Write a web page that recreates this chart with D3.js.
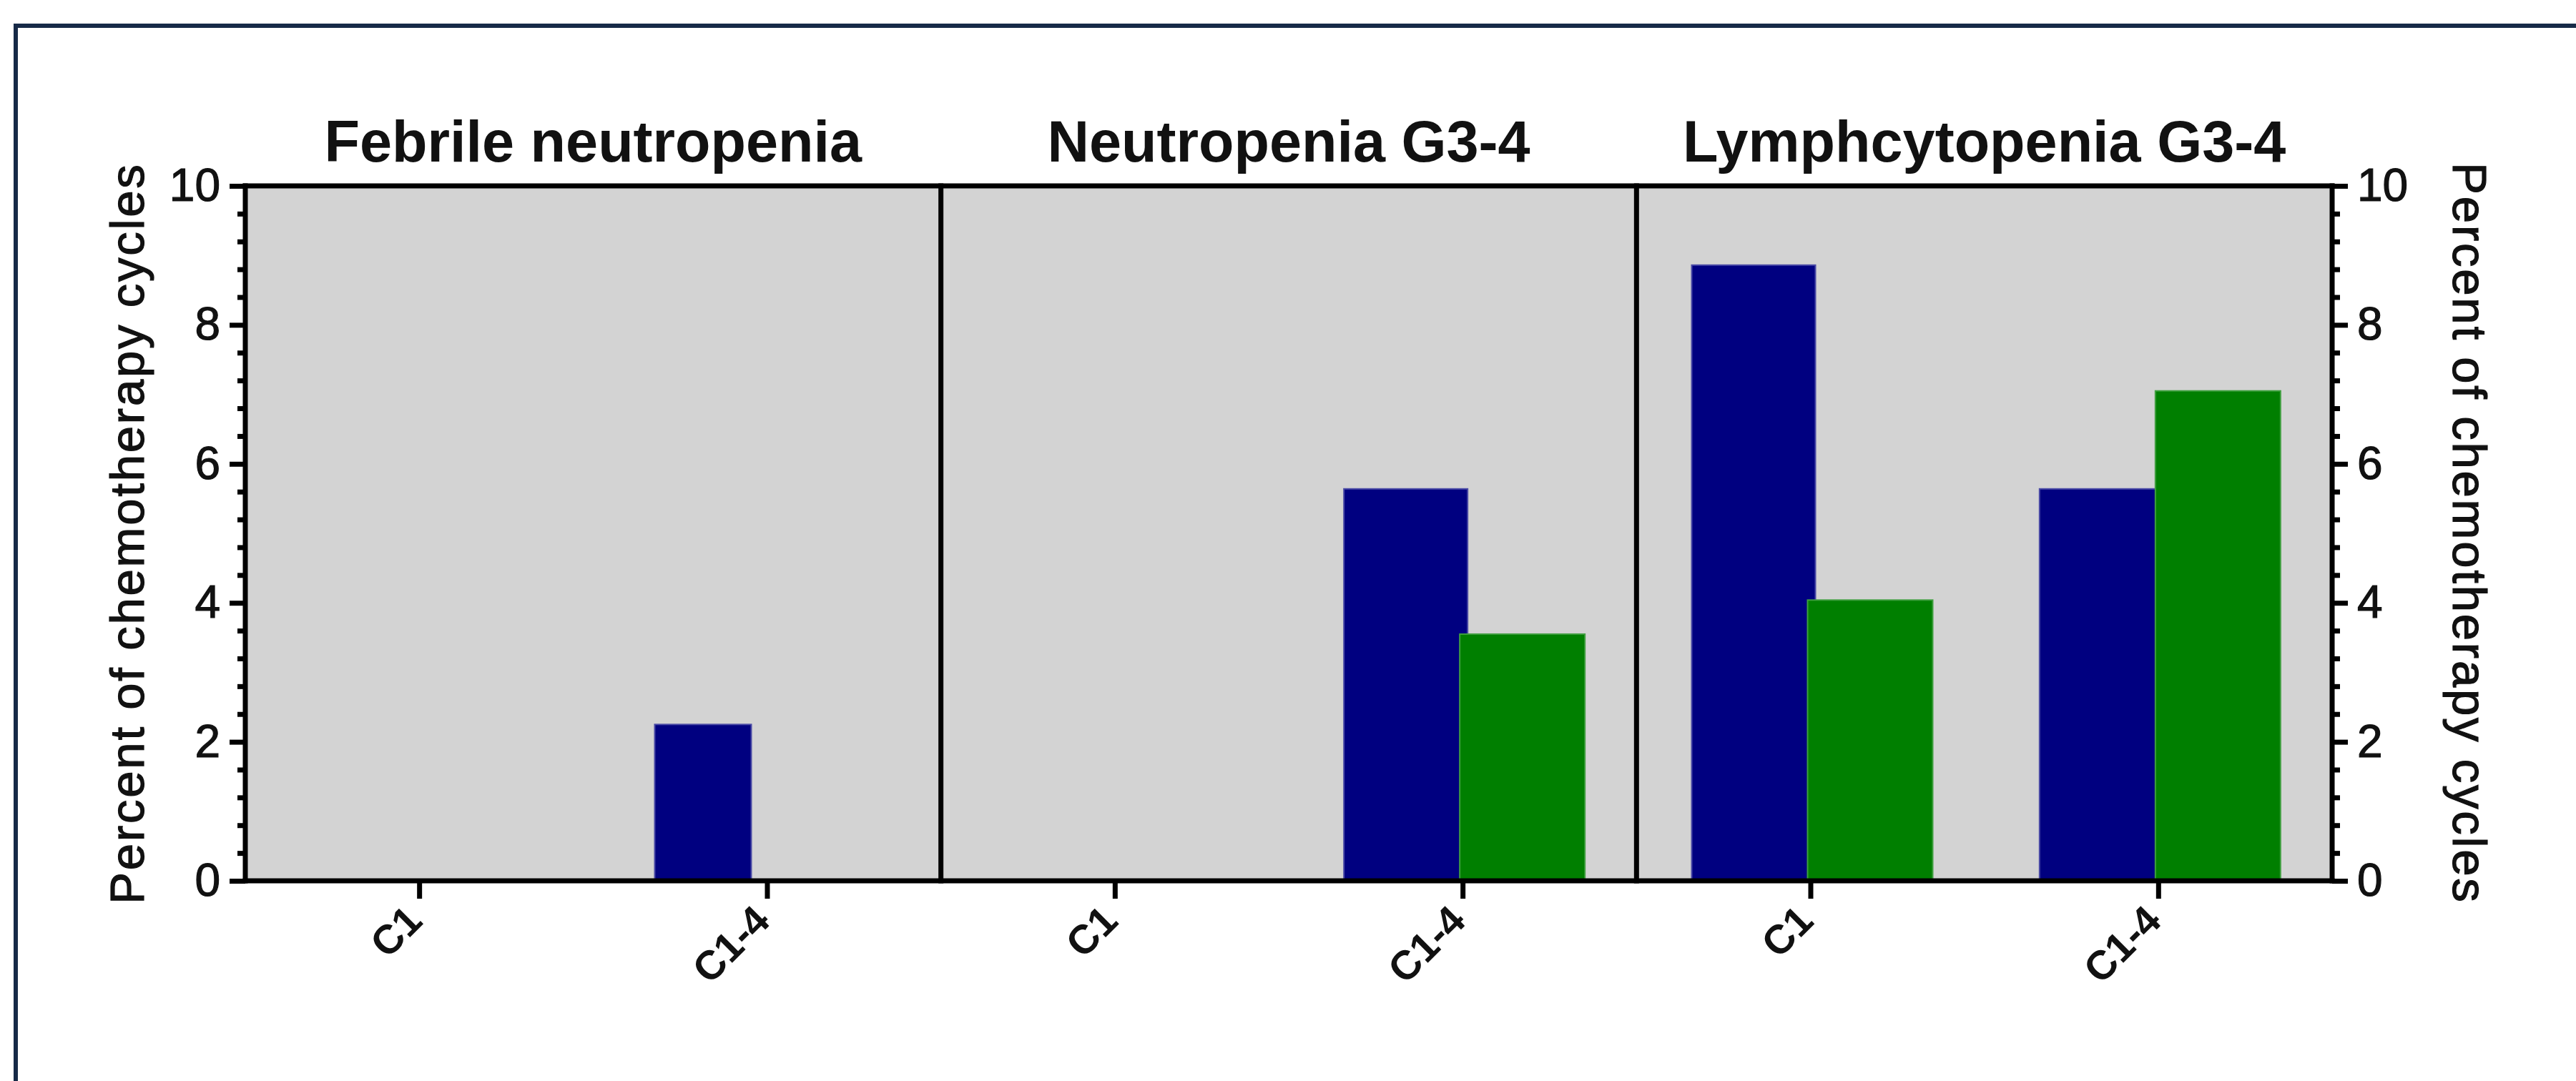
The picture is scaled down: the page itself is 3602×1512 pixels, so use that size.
<!DOCTYPE html>
<html>
<head>
<meta charset="utf-8">
<script src="https://cdnjs.cloudflare.com/ajax/libs/d3/7.8.5/d3.min.js"></script>
<style>
html, body { margin: 0; padding: 0; background: #fff; }
svg { display: block; }
text { font-family: "Liberation Sans", Arial, sans-serif; fill: #111; }
</style>
</head>
<body>
<svg id="chart" width="3602" height="1512"></svg>
<script>
// data
const panels = ['Febrile neutropenia', 'Neutropenia G3-4', 'Lymphcytopenia G3-4'];
const cycles = ['C1', 'C1-4'];
const blueValues = [[0, 2.25], [0, 5.64], [8.86, 5.64]];
const greenValues = [[0, 0], [0, 3.55], [4.04, 7.05]];
const yTicks = [0, 2, 4, 6, 8, 10];
const yTitle = 'Percent of chemotherapy cycles';

const W = 3602, H = 1512;
const plot = {left: 343, right: 3261, top: 260, bottom: 1232};

// bar widths / offsets from the category tick (first panel is drawn narrower)
const barGeom = [
    {blueOff: -157, blueW: 135, greenOff: -4, greenW: 175},
    {blueOff: -166, blueW: 173, greenOff: -4, greenW: 175},
    {blueOff: -166, blueW: 173, greenOff: -4, greenW: 175}
];

const svg = d3.select('#chart');

// outer frame (only top and left edges are visible)
svg.append('line')
    .attr('x1', 19).attr('x2', W)
    .attr('y1', 36).attr('y2', 36)
    .attr('stroke', '#172a47').attr('stroke-width', 6);
svg.append('line')
    .attr('x1', 22).attr('x2', 22)
    .attr('y1', 33).attr('y2', H)
    .attr('stroke', '#172a47').attr('stroke-width', 6);

const y = d3.scaleLinear().domain([0, 10]).range([plot.bottom, plot.top]);
const panelX = d3.scaleBand().domain(panels).range([plot.left, plot.right]);

svg.append('rect')
    .attr('x', plot.left).attr('y', plot.top)
    .attr('width', plot.right - plot.left)
    .attr('height', plot.bottom - plot.top)
    .attr('fill', '#d3d3d3');

panels.forEach((p, i) => {
    const x = d3.scalePoint()
        .domain(cycles)
        .range([panelX(p), panelX(p) + panelX.bandwidth()])
        .padding(0.5);
    const g = barGeom[i];
    const rows = cycles.map((c, j) => ({c: c, blue: blueValues[i][j], green: greenValues[i][j]}));

    const panel = svg.append('g').attr('class', 'panel');

    panel.selectAll('.bar-blue')
        .data(rows.filter(d => d.blue > 0))
        .enter()
        .append('rect')
        .attr('class', 'bar-blue')
        .attr('x', d => x(d.c) + g.blueOff)
        .attr('width', g.blueW)
        .attr('y', d => y(d.blue))
        .attr('height', d => y(0) - y(d.blue))
        .attr('fill', '#000080')
        .attr('stroke', '#4a4aa6')
        .attr('stroke-width', 2);

    panel.selectAll('.bar-green')
        .data(rows.filter(d => d.green > 0))
        .enter()
        .append('rect')
        .attr('class', 'bar-green')
        .attr('x', d => x(d.c) + g.greenOff)
        .attr('width', g.greenW)
        .attr('y', d => y(d.green))
        .attr('height', d => y(0) - y(d.green))
        .attr('fill', '#007f00')
        .attr('stroke', '#3f9f3f')
        .attr('stroke-width', 2);

    // category ticks + rotated labels
    const xAxis = panel.append('g')
        .attr('transform', `translate(0,${plot.bottom})`)
        .call(d3.axisBottom(x).tickSize(25).tickSizeOuter(0).tickFormat(''));
    xAxis.select('.domain').remove();
    xAxis.selectAll('.tick line').attr('stroke', '#000').attr('stroke-width', 7);

    panel.selectAll('.xlab')
        .data(cycles)
        .enter()
        .append('text')
        .attr('class', 'xlab')
        .attr('transform', d => `translate(${x(d) - 22},${plot.bottom + 30}) rotate(-45)`)
        .attr('text-anchor', 'end')
        .attr('dy', '0.72em')
        .attr('font-size', 57)
        .attr('font-weight', 'bold')
        .text(d => d);

    // panel title
    panel.append('text')
        .attr('x', panelX(p) + panelX.bandwidth() / 2)
        .attr('y', 226)
        .attr('text-anchor', 'middle')
        .attr('font-size', 81)
        .attr('font-weight', 'bold')
        .text(p);
});

// y axes (major + minor ticks) on both sides
const minorTicks = d3.range(0, 26).filter(k => k % 5 !== 0).map(k => k * 0.4);

function styleAxis(sel) {
    sel.select('.domain').remove();
    sel.selectAll('.tick line').attr('stroke', '#000').attr('stroke-width', 7);
    sel.selectAll('.tick text').attr('font-size', 64).attr('fill', '#111')
        .attr('stroke', '#111').attr('stroke-width', 1.2)
        .style('font-family', '"Liberation Sans", Arial, sans-serif');
}

svg.append('g')
    .attr('transform', `translate(${plot.left},0)`)
    .call(d3.axisLeft(y).tickValues(yTicks).tickSize(22).tickPadding(13).tickFormat(d3.format('d')))
    .call(styleAxis);
svg.append('g')
    .attr('transform', `translate(${plot.left},0)`)
    .call(d3.axisLeft(y).tickValues(minorTicks).tickSize(11).tickFormat(''))
    .call(styleAxis);
svg.append('g')
    .attr('transform', `translate(${plot.right},0)`)
    .call(d3.axisRight(y).tickValues(yTicks).tickSize(22).tickPadding(13).tickFormat(d3.format('d')))
    .call(styleAxis);
svg.append('g')
    .attr('transform', `translate(${plot.right},0)`)
    .call(d3.axisRight(y).tickValues(minorTicks).tickSize(11).tickFormat(''))
    .call(styleAxis);

// frame lines of the plot area
const frame = svg.append('g')
    .attr('stroke', '#000')
    .attr('stroke-width', 7)
    .attr('stroke-linecap', 'square');
frame.append('line').attr('x1', plot.left).attr('x2', plot.right).attr('y1', plot.top).attr('y2', plot.top);
frame.append('line').attr('x1', plot.left).attr('x2', plot.right).attr('y1', plot.bottom).attr('y2', plot.bottom);
[plot.left, panelX(panels[1]), panelX(panels[2]), plot.right].forEach(xv => {
    frame.append('line').attr('x1', xv).attr('x2', xv).attr('y1', plot.top).attr('y2', plot.bottom);
});

// axis titles
svg.selectAll('.ytitle')
    .data([{x: 201, rot: -90}, {x: 3430, rot: 90}])
    .enter()
    .append('text')
    .attr('class', 'ytitle')
    .attr('transform', d => `translate(${d.x},${(plot.top + plot.bottom) / 2}) rotate(${d.rot})`)
    .attr('text-anchor', 'middle')
    .attr('font-size', 67)
    .attr('letter-spacing', 2.8)
    .attr('stroke', '#111')
    .attr('stroke-width', 1.2)
    .text(yTitle);
</script>
</body>
</html>
